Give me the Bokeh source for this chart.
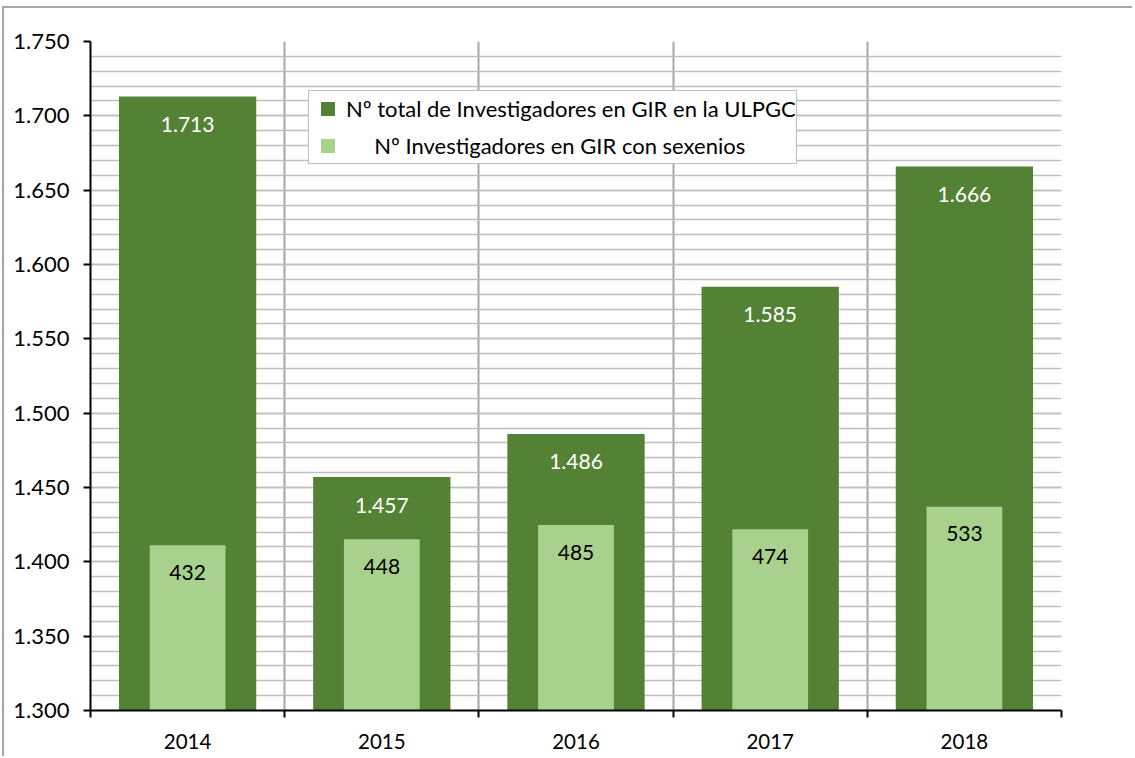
from bokeh.plotting import figure
from bokeh.models import Range1d, FixedTicker, Legend, LegendItem, ColumnDataSource
from bokeh.embed import file_html
from bokeh.resources import INLINE
from bokeh.core.properties import value

# ---- data ----
years = ["2014", "2015", "2016", "2017", "2018"]
total = [1713, 1457, 1486, 1585, 1666]          # Nº total de Investigadores en GIR en la ULPGC
sexenios = [432, 448, 485, 474, 533]            # Nº Investigadores en GIR con sexenios
y_ticks = [1300, 1350, 1400, 1450, 1500, 1550, 1600, 1650, 1700, 1750]
y_tick_labels = ["1.300", "1.350", "1.400", "1.450", "1.500", "1.550", "1.600", "1.650", "1.700", "1.750"]
legend_labels = ["Nº total de Investigadores en GIR en la ULPGC", "Nº Investigadores en GIR con sexenios"]


def fmt(v):
    return f"{v:,}".replace(",", ".")


pos = [i + 0.5 for i in range(len(years))]
src = ColumnDataSource(dict(
    x=pos, total=total, sex=sexenios,
    total_lbl=[fmt(v) for v in total], sex_lbl=[str(v) for v in sexenios],
))

DARK = "#548235"
LIGHT = "#A9D18E"
FONT = "Lato"

p = figure(width=1130, height=750, x_range=Range1d(0, len(years)), y_range=Range1d(y_ticks[0], y_ticks[-1]),
           output_backend="svg", toolbar_location=None,
           min_border_left=86, min_border_top=33, min_border_right=73, min_border_bottom=48)
p.extra_y_ranges = {"sec": Range1d(0, 1750)}
p.outline_line_color = None
p.background_fill_color = "white"
p.border_fill_color = "white"
p.styles = {"margin-left": "2px", "margin-top": "6px",
            "border-top": "2px solid #a6a6a6", "border-left": "2px solid #a6a6a6"}

r1 = p.vbar(x="x", top="total", bottom=0, width=0.707, source=src, fill_color=DARK, line_color=None)
r2 = p.vbar(x="x", top="sex", bottom=0, width=0.39, source=src, fill_color=LIGHT, line_color=None,
            y_range_name="sec")

# legend swatches: zero-size square markers on the same data (invisible in the plot)
s1 = p.scatter(x="x", y="total", source=src, marker="square", size=0, fill_color=DARK, line_color=None)
s2 = p.scatter(x="x", y="sex", source=src, y_range_name="sec", marker="square", size=0,
               fill_color=LIGHT, line_color=None)

p.text(x="x", y="total", text="total_lbl", source=src, text_color="white", text_font=value(FONT),
       text_font_size="21px", text_align="center", text_baseline="middle", y_offset=28)
p.text(x="x", y="sex", text="sex_lbl", source=src, y_range_name="sec", text_color="black",
       text_font=value(FONT), text_font_size="21px", text_align="center", text_baseline="middle", y_offset=27)

# x axis
xa = p.xaxis[0]
xa.ticker = FixedTicker(ticks=pos, minor_ticks=list(range(len(years) + 1)))
xa.major_label_overrides = {pos[i]: years[i] for i in range(len(years))}
xa.major_tick_line_color = None
xa.major_tick_out = 0
xa.major_tick_in = 0
xa.minor_tick_out = 7
xa.minor_tick_in = 0
xa.minor_tick_line_color = "black"
xa.minor_tick_line_width = 2
xa.axis_line_color = "black"
xa.axis_line_width = 2
xa.major_label_standoff = 16
xa.major_label_text_font = FONT
xa.major_label_text_font_size = "20.5px"
xa.major_label_text_color = "black"

# y axis
ya = p.yaxis[0]
ya.ticker = FixedTicker(ticks=y_ticks, minor_ticks=list(range(y_ticks[0], y_ticks[-1] + 1, 10)))
ya.major_label_overrides = {y_ticks[i]: y_tick_labels[i] for i in range(len(y_ticks))}
ya.major_tick_out = 7
ya.major_tick_in = 0
ya.major_tick_line_color = "black"
ya.major_tick_line_width = 2
ya.minor_tick_line_color = None
ya.axis_line_color = "black"
ya.axis_line_width = 2
ya.major_label_standoff = 14
ya.major_label_text_font = FONT
ya.major_label_text_font_size = "22px"
ya.major_label_text_color = "black"

# grids
p.xgrid.ticker = FixedTicker(ticks=list(range(len(years) + 1)))
p.xgrid.grid_line_color = "#a6a6a6"
p.xgrid.grid_line_width = 2
p.ygrid.grid_line_color = "#bfbfbf"
p.ygrid.grid_line_width = 1.5
p.ygrid.minor_grid_line_color = "#bfbfbf"
p.ygrid.minor_grid_line_width = 1.5

legend = Legend(items=[
    LegendItem(label=legend_labels[0], renderers=[s1]),
    LegendItem(label="\u00a0" * 5 + legend_labels[1], renderers=[s2]),
], location=(218, 546))
legend.label_text_font = FONT
legend.label_text_font_size = "22px"
legend.label_text_color = "black"
legend.glyph_width = 37
legend.glyph_height = 35
legend.label_height = 35
legend.spacing = 2
legend.padding = 0
legend.margin = 0
legend.label_standoff = 0
legend.border_line_color = "#808080"
legend.border_line_width = 1.5
legend.background_fill_color = "white"
legend.background_fill_alpha = 1
p.add_layout(legend, "center")

open("out.html", "w").write(file_html(p, INLINE))
